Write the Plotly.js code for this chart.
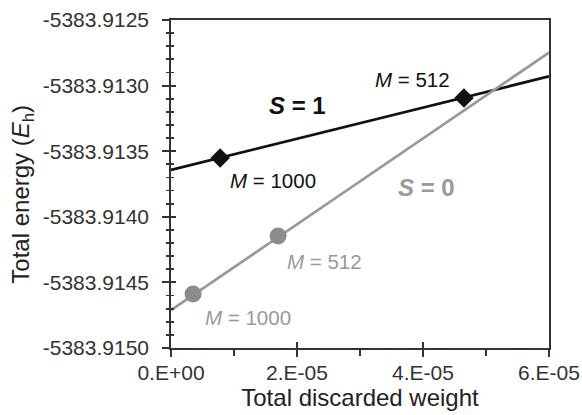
<!DOCTYPE html>
<html><head><meta charset="utf-8">
<script src="https://cdn.plot.ly/plotly-3.0.1.min.js"></script>
<style>html,body{margin:0;padding:0;background:#fff}#c{width:582px;height:415px}</style>
</head><body><div id="c"></div>
<script>
// Data points (total discarded weight, total energy)
const mLabels = ["M = 1000", "M = 512"];
const s1Weight = [7.8e-6, 4.65e-5];
const s1Energy = [-5383.913552, -5383.913095];
const s0Weight = [3.5e-6, 1.70e-5];
const s0Energy = [-5383.914588, -5383.914146];
// Linear extrapolation lines
const fitWeight = [0, 6e-5];
const s1Fit = [-5383.913643, -5383.912930];
const s0Fit = [-5383.914712, -5383.912748];
// Axis ticks
const xTickVals = [0, 2e-5, 4e-5, 6e-5];
const xTickText = ["0.E+00", "2.E-05", "4.E-05", "6.E-05"];
const xMinorVals = [1e-5, 3e-5, 5e-5];
const yTickVals = [-5383.9150, -5383.9145, -5383.9140, -5383.9135, -5383.9130, -5383.9125];
const yTickText = ["-5383.9150", "-5383.9145", "-5383.9140", "-5383.9135", "-5383.9130", "-5383.9125"];

const black = "#111111", gray = "#9a9a9a", axc = "#333333";
const traces = [
  {x: fitWeight, y: s1Fit, mode: "lines", line: {color: black, width: 2.8}, hoverinfo: "skip"},
  {x: fitWeight, y: s0Fit, mode: "lines", line: {color: gray, width: 2.8}, hoverinfo: "skip"},
  {x: s1Weight, y: s1Energy, mode: "markers", marker: {symbol: "diamond", size: 15, color: black}},
  {x: s0Weight, y: s0Energy, mode: "markers", marker: {symbol: "circle", size: 17, color: "#8c8c8c"}},
  {x: [0], y: [-5383.9150], yaxis: "y2", xaxis: "x2", mode: "markers", marker: {opacity: 0}, hoverinfo: "skip"}
];
const fam = "Liberation Sans, Arial, sans-serif";
const fnt = {family: fam, size: 21, color: axc};
const xr = [0, 6e-5], yr = [-5383.9150, -5383.9125];
const layout = {
  width: 582, height: 415, showlegend: false,
  paper_bgcolor: "#fff", plot_bgcolor: "#fff",
  margin: {l: 171, r: 33, t: 20, b: 67},
  font: fnt,
  xaxis: {range: xr, tickmode: "array", tickvals: xTickVals, ticktext: xTickText,
    ticks: "outside", ticklen: 7, tickwidth: 1.8, tickcolor: axc,
    minor: {tickvals: xMinorVals, ticks: "outside", ticklen: 6, tickwidth: 1.8, tickcolor: axc},
    showline: true, linecolor: axc, linewidth: 1.8, mirror: true, showgrid: false, zeroline: false,
    tickfont: fnt, ticklabelstandoff: -2,
    title: {text: "Total discarded weight", font: {family: fam, size: 24, color: "#222"}, standoff: 6}},
  yaxis: {range: yr, tickmode: "array", tickvals: yTickVals, ticktext: yTickText,
    ticks: "outside", ticklen: 7, tickwidth: 1.8, tickcolor: axc,
    minor: {dtick: 0.0001, tick0: -5383.9150, ticks: "outside", ticklen: 3, tickwidth: 1.8, tickcolor: axc},
    showline: true, linecolor: axc, linewidth: 1.8, mirror: true, showgrid: false, zeroline: false,
    tickfont: fnt, ticklabelstandoff: 9},
  xaxis2: {range: xr, overlaying: "x", tickmode: "array", tickvals: xTickVals, showticklabels: false,
    ticks: "inside", ticklen: 6, tickwidth: 1.8, tickcolor: axc, showline: false, showgrid: false, zeroline: false},
  yaxis2: {range: yr, overlaying: "y", tickmode: "array", tickvals: yTickVals, showticklabels: false,
    ticks: "inside", ticklen: 5, tickwidth: 1.8, tickcolor: axc,
    minor: {dtick: 0.0001, tick0: -5383.9150, ticks: "inside", ticklen: 3, tickwidth: 1.8, tickcolor: axc},
    showline: false, showgrid: false, zeroline: false},
  annotations: [
    {xref: "paper", yref: "paper", x: -0.392, y: 0.47, xanchor: "center", yanchor: "middle", textangle: -90,
     text: "Total energy (<i>E</i><sub>h</sub>)", showarrow: false, font: {family: fam, size: 24, color: "#222"}},
    {x: 2.0e-5, y: -5383.913148, text: "<b><i>S</i> = 1</b>", showarrow: false, font: {family: fam, size: 24, color: black}},
    {x: 3.84e-5, y: -5383.91295, text: "<i>M</i> = 512", showarrow: false, font: {family: fam, size: 20.5, color: black}},
    {x: 1.62e-5, y: -5383.91372, text: "<i>M</i> = 1000", showarrow: false, font: {family: fam, size: 20.5, color: black}},
    {x: 4.06e-5, y: -5383.91378, text: "<b><i>S</i> = 0</b>", showarrow: false, font: {family: fam, size: 24, color: gray}},
    {x: 2.44e-5, y: -5383.914344, text: "<i>M</i> = 512", showarrow: false, font: {family: fam, size: 20.5, color: gray}},
    {x: 1.22e-5, y: -5383.914771, text: "<i>M</i> = 1000", showarrow: false, font: {family: fam, size: 20.5, color: gray}}
  ]
};
Plotly.newPlot("c", traces, layout, {displayModeBar: false, staticPlot: true});
</script></body></html>
